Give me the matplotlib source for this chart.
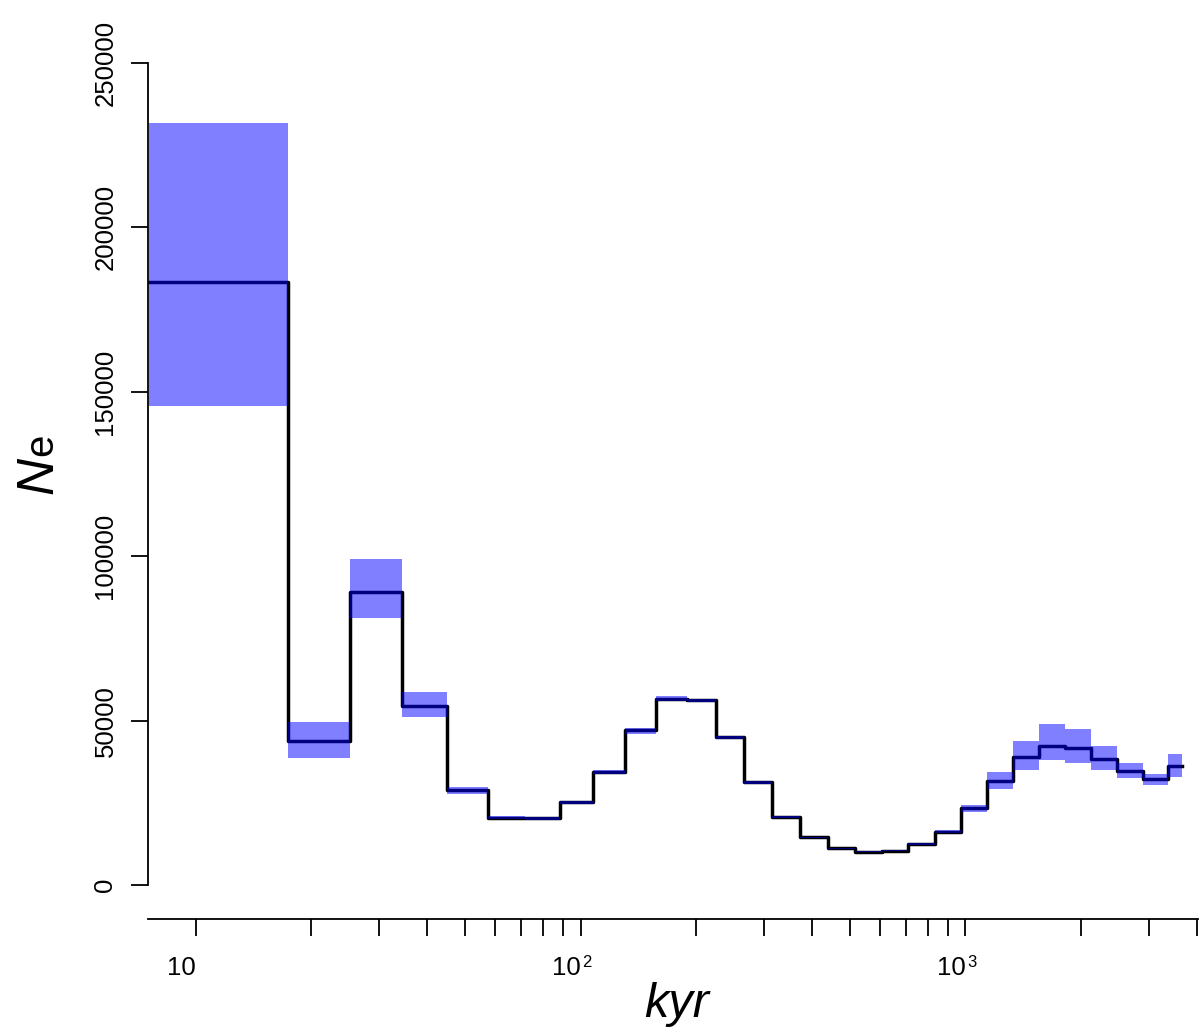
#!/usr/bin/env python3
"""Step plot of effective population size through time, with its band."""

import matplotlib
matplotlib.use("Agg")
import matplotlib.pyplot as plt
import matplotlib.transforms as mtransforms
from matplotlib.ticker import NullLocator

# ── data ──────────────────────────────────────────────────────────────────────
# segment edges in kyr (30 segments -> 31 edges)
edges_kyr = [7.57, 17.39, 25.19, 34.39, 44.93, 57.41, 71.89, 88.47, 107.9,
             130.5, 157.1, 188.7, 224.9, 265.9, 314.4, 371.7, 438.6, 516.4,
             605.9, 710.3, 833.4, 973.4, 1137, 1331, 1555, 1816, 2114, 2470,
             2886, 3364, 3645]

ne_mid = [183300, 43800, 89100, 54500, 28900, 20500, 20300, 25100, 34400,
          47100, 56600, 56200, 44900, 31200, 20600, 14450, 11150, 10150,
          10450, 12450, 16200, 23300, 31700, 39000, 42300, 41700, 38300,
          34800, 32100, 36100]

ne_upper = [231700, 49500, 99100, 58600, 29900, 20900, 20700, 25600, 35000,
            47900, 57600, 56700, 45300, 31600, 20900, 14700, 11400, 10400,
            10700, 12700, 16600, 24300, 34500, 43800, 49000, 47400, 42300,
            37200, 33800, 39800]

ne_lower = [145700, 38700, 81100, 51000, 27700, 20100, 19900, 24700, 33900,
            45900, 55900, 55700, 44500, 30800, 20300, 14200, 10900, 9900,
            10200, 12200, 15900, 22100, 29200, 35000, 38000, 37200, 35000,
            32600, 30400, 32900]

y_ticks = [0, 50000, 100000, 150000, 200000, 250000]
x_ticks = [10, 20, 30, 40, 50, 60, 70, 80, 90,
           100, 200, 300, 400, 500, 600, 700, 800, 900,
           1000, 2000, 3000, 4000]
x_labelled = [(10, None), (100, "2"), (1000, "3")]

plt.rcParams["font.family"] = ["Liberation Sans", "DejaVu Sans"]

W, H = 1200, 1036
fig = plt.figure(figsize=(W / 100, H / 100), dpi=100)
ax = fig.add_axes([148 / W, (H - 919) / H, 1050 / W, (919 - 40) / H])

ax.set_xscale("log")
ax.set_xlim(7.525, 4018)
ax.set_ylim(-10341, 256995)

# ── step line, then the translucent band on top of it ─────────────────────────
ax.step(edges_kyr, ne_mid + [ne_mid[-1]], where="post",
        color="black", linewidth=2.5, zorder=2)
ax.fill_between(edges_kyr, ne_lower + [ne_lower[-1]], ne_upper + [ne_upper[-1]],
                step="post", color="blue", alpha=0.5, linewidth=0, zorder=3)

# ── axes in base-R style ──────────────────────────────────────────────────────
for side in ("top", "right"):
    ax.spines[side].set_visible(False)
ax.spines["left"].set_bounds(0, 250000)
ax.spines["left"].set_linewidth(1.3)
ax.spines["bottom"].set_linewidth(1.3)

ax.set_yticks(y_ticks)
ax.set_yticklabels([str(v) for v in y_ticks])
ax.tick_params(axis="y", length=12, width=1.3, pad=10, labelsize=18.5,
               labelrotation=90)
for lab in ax.get_yticklabels():
    lab.set_va("center")

ax.set_xticks(x_ticks)
ax.set_xticklabels([""] * len(x_ticks))
ax.xaxis.set_minor_locator(NullLocator())
ax.tick_params(axis="x", length=12, width=1.3)

# tick labels "10", "10^2", "10^3": base ends at the tick, exponent after it
lab_y = (H - 975) / H
sup_y = (H - 967) / H
trans = mtransforms.blended_transform_factory(ax.transData, fig.transFigure)
sup_trans = trans + mtransforms.ScaledTranslation(1.5 / 100, 0, fig.dpi_scale_trans)
for val, exp in x_labelled:
    fig.text(val, lab_y, "10", transform=trans, ha="right", va="baseline",
             fontsize=18.5)
    if exp:
        fig.text(val, sup_y, exp, transform=sup_trans, ha="left",
                 va="baseline", fontsize=12)

# axis titles
fig.text(677 / W, (H - 1017) / H, "kyr", ha="center", va="baseline",
         fontsize=35, style="italic")
fig.text(52 / W, (H - 494) / H, "N", rotation=90, rotation_mode="anchor",
         ha="left", va="baseline", fontsize=37, style="italic")
fig.text(52 / W, (H - 456) / H, "e", rotation=90, rotation_mode="anchor",
         ha="left", va="baseline", fontsize=29)

fig.savefig("out.png", dpi=100)
